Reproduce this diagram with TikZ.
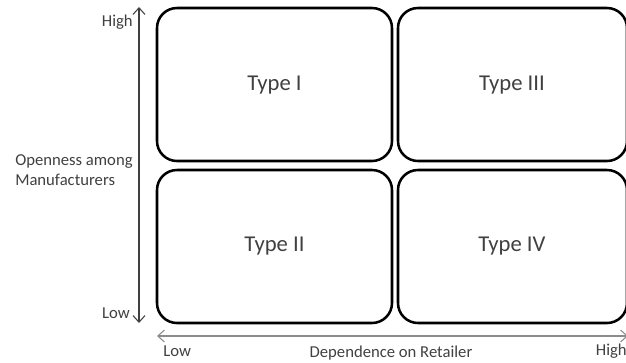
\documentclass[tikz,border=0pt]{standalone}
\usepackage{fontspec}
\setmainfont{Carlito}
\usetikzlibrary{arrows.meta}
\definecolor{txt}{HTML}{404040}
\definecolor{axv}{HTML}{404040}
\definecolor{axh}{HTML}{8C8C8C}
\tikzset{
  quad/.style={draw=black, line width=1.9pt, rounded corners=15pt},
  typelbl/.style={text=txt, font=\fontsize{17}{20}\selectfont, inner sep=0pt},
  axlbl/.style={text=txt, font=\fontsize{12.5}{15}\selectfont, inner sep=0pt},
  axarrow/.style={line width=0.8pt, {Straight Barb[length=5pt,width=9pt]}-{Straight Barb[length=5pt,width=9pt]}}
}
\begin{document}
\begin{tikzpicture}[x=0.75pt,y=-0.75pt]
\useasboundingbox (0,0) rectangle (626,362);
% quadrants
\draw[quad] (157,8) rectangle (392,161);
\draw[quad] (398,8) rectangle (627,161);
\draw[quad] (157,170) rectangle (392,323);
\draw[quad] (398,170) rectangle (627,323);
\node[typelbl] (t1) at (274.5,85) {Type I};
\node[typelbl] (t3) at (512,85) {Type III};
\node[typelbl] (t2) at (274.5,246) {Type II};
\node[typelbl] (t4) at (512,246) {Type IV};
% axes
\coordinate (vtop) at (139,7);
\coordinate (vbot) at (139,323);
\draw[axarrow, draw=axv] (vbot) -- (vtop);
\coordinate (hl) at (157,336);
\coordinate (hr) at (628,336);
\draw[axarrow, draw=axh] (hl) -- (hr);
% axis labels
\node[axlbl, anchor=east] (hi) at (133,22) {High};
\node[axlbl, anchor=east] (lo) at (130,313) {Low};
\node[axlbl, anchor=west, align=left] (ov) at (15,170) {Openness among\\Manufacturers};
\node[axlbl, anchor=west] (lo2) at (163,351) {Low};
\node[axlbl] (dep) at (391,353) {Dependence on Retailer};
\node[axlbl, anchor=east] (hi2) at (627,351) {High};
\end{tikzpicture}
\end{document}
